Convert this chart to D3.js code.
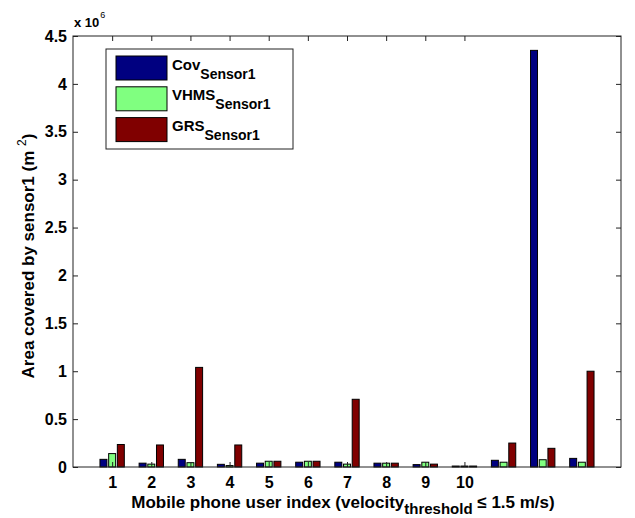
<!DOCTYPE html>
<meta charset="utf-8">
<style>
body { margin: 0; background: #fff; }
text { font-family: "Liberation Sans", Arial, sans-serif; font-weight: bold; fill: #000; }
.axis path { display: none; }
.axis line { stroke: #222; }
.axis text { font-size: 16px; }
</style>
<svg width="635" height="518"></svg>
<script src="https://cdn.jsdelivr.net/npm/d3@7"></script>
<script>

// mobile phone user index (13 groups, only 1..10 are labelled)
var users = [1, 2, 3, 4, 5, 6, 7, 8, 9, 10, 11, 12, 13];
var xTicks = [1, 2, 3, 4, 5, 6, 7, 8, 9, 10];
var yTicks = [0, 0.5e6, 1e6, 1.5e6, 2e6, 2.5e6, 3e6, 3.5e6, 4e6, 4.5e6];

// area covered by sensor1 (m^2)
var covSensor1  = [0.08e6, 0.04e6, 0.08e6, 0.028e6, 0.04e6, 0.05e6, 0.05e6, 0.04e6, 0.025e6, 0.01e6, 0.07e6, 4.35e6, 0.09e6];
var vhmsSensor1 = [0.14e6, 0.03e6, 0.045e6, 0.015e6, 0.06e6, 0.06e6, 0.03e6, 0.04e6, 0.05e6, 0.01e6, 0.05e6, 0.076e6, 0.05e6];
var grsSensor1  = [0.235e6, 0.23e6, 1.04e6, 0.23e6, 0.06e6, 0.06e6, 0.707e6, 0.04e6, 0.03e6, 0.01e6, 0.25e6, 0.195e6, 1.0e6];

var seriesNames = ["Cov", "VHMS", "GRS"];
var seriesColors = ["#000080", "#80ff80", "#800000"];

var svg = d3.select("svg"),
    margin = {top: 36, right: 14, bottom: 51, left: 73},
    width = svg.attr("width") - margin.left - margin.right,
    height = svg.attr("height") - margin.top - margin.bottom,
    g = svg.append("g").attr("transform", "translate(" + margin.left + "," + margin.top + ")");

var x = d3.scaleLinear().domain([0, 14]).range([0, width]),
    y = d3.scaleLinear().domain([0, 4.5e6]).range([height, 0]);

var series = [covSensor1, vhmsSensor1, grsSensor1];
var offsets = [-0.222, 0, 0.222];
var barW = 0.178;

var bars = [];
series.forEach(function(vals, s) {
  vals.forEach(function(v, i) {
    bars.push({s: s, user: users[i], value: v});
  });
});

g.selectAll(".bar")
  .data(bars)
  .enter().append("rect")
    .attr("class", "bar")
    .attr("x", function(d) { return x(d.user + offsets[d.s] - barW / 2); })
    .attr("width", function(d) { return x(barW) - x(0); })
    .attr("y", function(d) { return y(d.value); })
    .attr("height", function(d) { return y(0) - y(d.value); })
    .attr("fill", function(d) { return seriesColors[d.s]; })
    .attr("stroke", "#000")
    .attr("stroke-width", 1);

// axes with inward ticks, drawn over the bars
g.append("g")
    .attr("class", "axis axis--x")
    .attr("transform", "translate(0," + height + ")")
    .call(d3.axisBottom(x).tickValues(xTicks).tickFormat(d3.format("d")).tickSizeInner(-5).tickSizeOuter(0).tickPadding(10));

g.append("g")
    .attr("class", "axis axis--xtop")
    .call(d3.axisTop(x).tickValues(xTicks).tickFormat("").tickSizeInner(-5).tickSizeOuter(0));

g.append("g")
    .attr("class", "axis axis--y")
    .call(d3.axisLeft(y).tickValues(yTicks).tickFormat(function(d) { return d / 1e6; }).tickSizeInner(-5).tickSizeOuter(0).tickPadding(6));

g.append("g")
    .attr("class", "axis axis--yright")
    .attr("transform", "translate(" + width + ",0)")
    .call(d3.axisRight(y).tickValues(yTicks).tickFormat("").tickSizeInner(-5).tickSizeOuter(0));

g.append("rect")
    .attr("width", width)
    .attr("height", height)
    .attr("fill", "none")
    .attr("stroke", "#222");

// exponent label
var expo = svg.append("text").attr("x", 74).attr("y", 27).style("font-size", "13px");
expo.append("tspan").text("x 10");
expo.append("tspan").attr("dy", -9).attr("dx", 1).style("font-size", "9px").style("font-weight", "normal").text("6");

// y label
var yl = svg.append("text")
    .attr("transform", "translate(34,256) rotate(-90)")
    .attr("text-anchor", "middle")
    .style("font-size", "17px");
yl.append("tspan").text("Area covered by sensor1 (m ");
yl.append("tspan").attr("dy", -8).style("font-size", "12px").style("font-weight", "normal").text("2");
yl.append("tspan").attr("dy", 8).text(")");

// x label
var xl = svg.append("text")
    .attr("x", 343)
    .attr("y", 508)
    .attr("text-anchor", "middle")
    .style("font-size", "17px");
xl.append("tspan").text("Mobile phone user index (velocity");
xl.append("tspan").attr("dy", 6).style("font-size", "15px").text("threshold");
xl.append("tspan").attr("dy", -6).text(" \u2264 1.5 m/s)");

// legend
var legend = svg.append("g").attr("transform", "translate(106,49)");
legend.append("rect")
    .attr("width", 187)
    .attr("height", 100)
    .attr("fill", "#fff")
    .attr("stroke", "#222");

var item = legend.selectAll(".item")
  .data(seriesNames)
  .enter().append("g")
    .attr("class", "item")
    .attr("transform", function(d, i) { return "translate(10," + (7 + i * 30.8) + ")"; });

item.append("rect")
    .attr("width", 51)
    .attr("height", 24)
    .attr("fill", function(d, i) { return seriesColors[i]; })
    .attr("stroke", "#000");

var lt = item.append("text")
    .attr("x", 56)
    .attr("y", 13.5)
    .style("font-size", "15px");
lt.append("tspan").text(function(d) { return d; });
lt.append("tspan").attr("dy", 9).style("font-size", "14px").text("Sensor1");

</script>
